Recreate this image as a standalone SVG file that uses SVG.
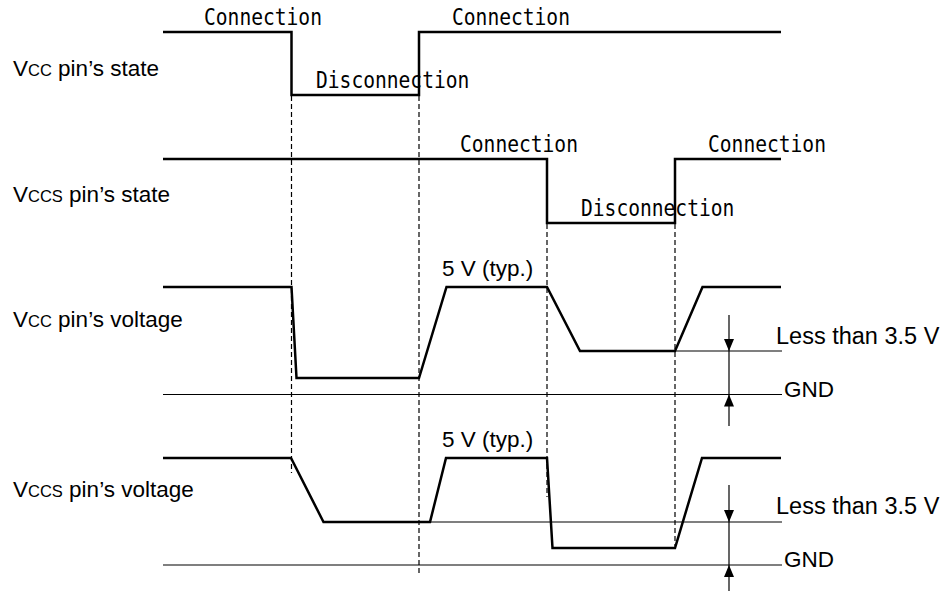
<svg xmlns="http://www.w3.org/2000/svg" width="943" height="591" viewBox="0 0 943 591">
<style>
.wave{fill:none;stroke:#000;stroke-width:2.5;stroke-linejoin:miter}
.thin{fill:none;stroke:#000;stroke-width:1.2}
.dash{fill:none;stroke:#000;stroke-width:1.2;stroke-dasharray:5 3}
.lbl{font-family:"Liberation Sans",Arial,sans-serif;font-size:22.5px;fill:#000}
.big{font-size:23.5px}
.sub{font-size:16.5px}
.mono{font-family:"DejaVu Sans Mono","Liberation Mono",monospace;font-size:19.6px;fill:#000}
</style>
<defs>
<marker id="ah" viewBox="0 0 12 10" refX="12" refY="5" markerWidth="12" markerHeight="10" markerUnits="userSpaceOnUse" orient="auto">
<path d="M0,0 L12,5 L0,10 z" fill="#000"/>
</marker>
</defs>
<rect width="943" height="591" fill="#fff"/>

<g id="connectors">
<path class="dash" d="M291.5,96 V473"/>
<path class="dash" d="M419,96 V575"/>
<path class="dash" d="M547,224 V497"/>
<path class="dash" d="M675,224 V546"/>
<path class="thin" d="M163,394.5 H782"/>
<path class="thin" d="M675,351 H782"/>
<path class="thin" d="M163,565 H782"/>
<path class="thin" d="M430,522 H782"/>
<line class="thin" x1="729" y1="315" x2="729" y2="351" marker-end="url(#ah)"/>
<line class="thin" x1="729" y1="351" x2="729" y2="394.5"/>
<line class="thin" x1="729" y1="426" x2="729" y2="394.5" marker-end="url(#ah)"/>
<line class="thin" x1="729" y1="485" x2="729" y2="522" marker-end="url(#ah)"/>
<line class="thin" x1="729" y1="522" x2="729" y2="565"/>
<line class="thin" x1="729" y1="591" x2="729" y2="565" marker-end="url(#ah)"/>
</g>

<g id="vcc-state">
<text class="lbl" x="13" y="76">V<tspan class="sub">CC</tspan> pin’s state</text>
<path class="wave" d="M163,32 H291.5 V95 H419 V32 H781"/>
<text class="mono" transform="translate(204,25) scale(1,1.18)">Connection</text>
<text class="mono" transform="translate(452,25) scale(1,1.18)">Connection</text>
<text class="mono" transform="translate(316,88) scale(1,1.18)">Disconnection</text>
</g>

<g id="vccs-state">
<text class="lbl" x="13" y="202">V<tspan class="sub">CCS</tspan> pin’s state</text>
<path class="wave" d="M163,159 H547 V223 H675 V159 H781"/>
<text class="mono" transform="translate(460,152) scale(1,1.18)">Connection</text>
<text class="mono" transform="translate(708,152) scale(1,1.18)">Connection</text>
<text class="mono" transform="translate(581,216) scale(1,1.18)">Disconnection</text>
</g>

<g id="vcc-voltage">
<text class="lbl" x="13" y="327">V<tspan class="sub">CC</tspan> pin’s voltage</text>
<path class="wave" d="M163,287 H291.5 L296.5,378 H419 L446.5,287 H547 L580,351 H675 L702.5,287 H781"/>
<text class="lbl" x="442" y="276">5 V (typ.)</text>
<text class="lbl big" x="776" y="344">Less than 3.5 V</text>
<text class="lbl" x="784" y="397">GND</text>
</g>

<g id="vccs-voltage">
<text class="lbl" x="13" y="497">V<tspan class="sub">CCS</tspan> pin’s voltage</text>
<path class="wave" d="M163,458 H291 L323.5,522 H430 L446,458 H547 L552.5,548 H675 L702,458 H781"/>
<text class="lbl" x="442" y="447">5 V (typ.)</text>
<text class="lbl big" x="776" y="514">Less than 3.5 V</text>
<text class="lbl" x="784" y="567">GND</text>
</g>
</svg>
